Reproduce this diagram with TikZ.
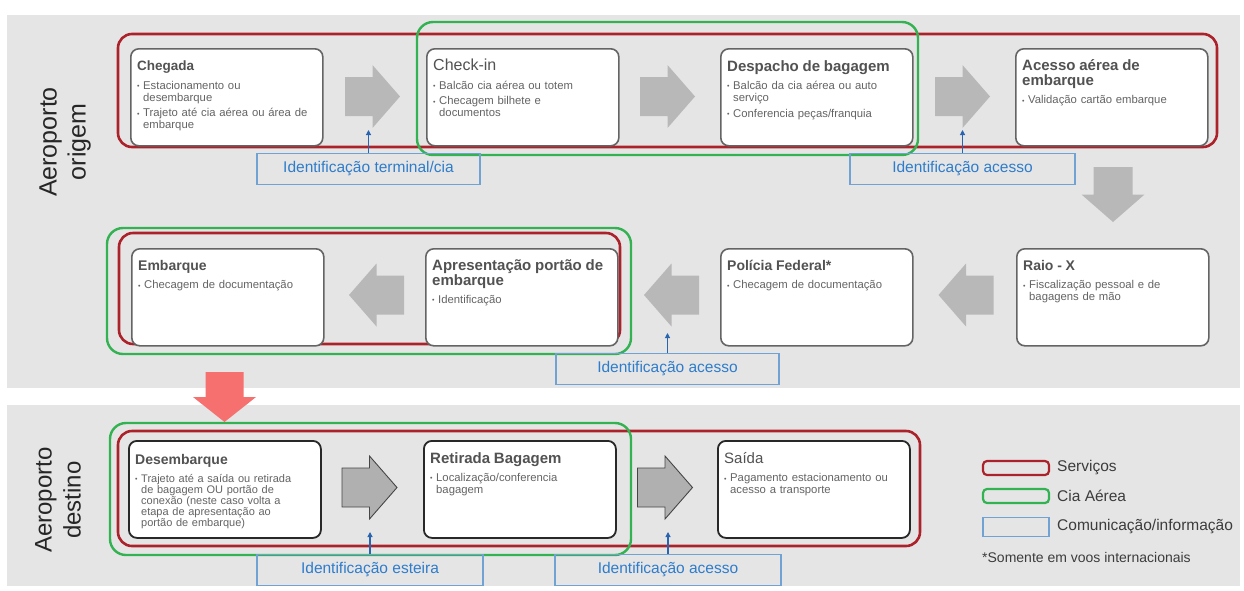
\documentclass[tikz,border=0pt]{standalone}
\usepackage{fontspec}
\setmainfont{Liberation Sans}
\usetikzlibrary{arrows.meta}

\definecolor{panel}{RGB}{229,229,229}
\definecolor{arrowgray}{RGB}{184,184,184}
\definecolor{arrowfill}{RGB}{176,176,176}
\definecolor{arrowedge}{RGB}{70,70,70}
\definecolor{svcred}{RGB}{172,34,42}
\definecolor{ciagreen}{RGB}{50,178,80}
\definecolor{infoblue}{RGB}{112,162,212}
\definecolor{infotext}{RGB}{46,124,204}
\definecolor{tipblue}{RGB}{40,100,176}
\definecolor{titlegray}{RGB}{82,82,82}
\definecolor{bodygray}{RGB}{100,100,100}
\definecolor{boxedge}{RGB}{100,100,100}
\definecolor{boxedgedark}{RGB}{40,40,40}
\definecolor{sidetext}{RGB}{38,38,38}
\definecolor{legtext}{RGB}{60,60,60}
\definecolor{salmon}{RGB}{246,112,112}

% step title: optional weight, size, text
\newcommand\hd[3][\bfseries]{\noindent{\fontsize{#2}{15}\selectfont#1\color{titlegray}#3\par}\vspace{3pt}}
% bullet item with hanging indent
\newcommand\bul[1]{\par\addvspace{3.5pt}\noindent\hangindent=6pt\hangafter=1\makebox[6pt][l]{\raisebox{0.6pt}{\fontsize{7}{7}\selectfont\textbullet}}#1\par}
% block arrow centred on the head base
\newcommand\blockarrow[3]{\path[#1,shift={#2},rotate=#3] (-27.5,-19.5) -- (0,-19.5) -- (0,-31.5) -- (27.5,0) -- (0,31.5) -- (0,19.5) -- (-27.5,19.5) -- cycle;}

\tikzset{
  panelbg/.style={fill=panel,draw=none},
  svcframe/.style={draw=svcred,line width=2.6pt,rounded corners=14pt},
  ciaframe/.style={draw=ciagreen,line width=2.4pt,rounded corners=16pt},
  stepbox/.style={draw=boxedge,line width=1.6pt,fill=white,rounded corners=8pt,
    minimum width=192pt,minimum height=97pt,anchor=north west,inner sep=0pt},
  stepboxdark/.style={stepbox,draw=boxedgedark,line width=1.8pt},
  steptext/.style={anchor=north west,inner sep=0pt,text width=181pt,
    font=\fontsize{11.3}{12}\selectfont,text=bodygray},
  flowarrow/.style={fill=arrowgray},
  flowarrowdark/.style={fill=arrowfill,draw=arrowedge,line width=0.9pt},
  infobox/.style={draw=infoblue,line width=1.2pt,minimum height=31pt,inner sep=0pt,
    text=infotext,font=\fontsize{15.5}{17}\selectfont},
  infoarrow/.style={draw=tipblue,line width=1.1pt,-{Triangle[length=5pt,width=5pt]}},
  sidelabel/.style={rotate=90,align=center,text=sidetext,font=\fontsize{25}{29}\selectfont},
  legbox/.style={line width=2.2pt,minimum width=66pt,minimum height=14pt,rounded corners=4pt,inner sep=0pt},
  legtxt/.style={anchor=west,inner sep=0pt,text=legtext,font=\fontsize{15.5}{17}\selectfont}
}

\begin{document}
\begin{tikzpicture}[x=1pt,y=-1pt]
\useasboundingbox (0,0) rectangle (1244,590);
\fill[white] (0,0) rectangle (1244,590);

% background panels
\path[panelbg] (7,15) rectangle (1240,388);
\path[panelbg] (7,405) rectangle (1240,586);

% side labels
\node[sidelabel] (lblorigem) at (65,142) {Aeroporto\\origem};
\node[sidelabel,font=\fontsize{24}{29}\selectfont] (lbldestino) at (58,500) {Aeroporto\\destino};

% service / airline frames
\draw[svcframe] (118,34) rectangle (1217,147);
\draw[ciaframe] (417,22) rectangle (918,155);
\draw[svcframe] (119,233) rectangle (620,344);
\draw[ciaframe] (107,228) rectangle (631,354);
\draw[svcframe] (118,431) rectangle (920,546);
\draw[ciaframe] (110,423) rectangle (631,555);

% ---- origin airport, first row ----
\node[stepbox] (chegada) at (130,48) {};
\node[steptext] (chegadaT) at ([xshift=7pt,yshift=-13pt]chegada.north west)
  {\hd{13.5}{Chegada}\bul{Estacionamento ou\newline desembarque}\bul{Trajeto até cia aérea ou área de\newline embarque}};
\node[stepbox] (checkin) at (426,48) {};
\node[steptext] (checkinT) at ([xshift=7pt,yshift=-11pt]checkin.north west)
  {\hd[\mdseries]{16}{Check-in}\bul{Balcão cia aérea ou totem}\bul{Checagem bilhete e\newline documentos}};
\node[stepbox] (despacho) at (720,48) {};
\node[steptext] (despachoT) at ([xshift=7pt,yshift=-12pt]despacho.north west)
  {\hd{15}{Despacho de bagagem}\bul{Balcão da cia aérea ou auto\newline serviço}\bul{Conferencia peças/franquia}};
\node[stepbox] (acesso) at (1015,48) {};
\node[steptext] (acessoT) at ([xshift=7pt,yshift=-11pt]acesso.north west)
  {\hd{15}{Acesso aérea de\newline embarque}\bul{Validação cartão embarque}};

\blockarrow{flowarrow}{(372.5,96.5)}{0}
\blockarrow{flowarrow}{(667.5,96.5)}{0}
\blockarrow{flowarrow}{(962.5,96.5)}{0}
\blockarrow{flowarrow}{(1113,194.5)}{-90}

\node[infobox,minimum width=223pt] (idterm) at (368.5,169) {Identificação terminal/cia};
\node[infobox,minimum width=225pt] (idacc1) at (962.5,169) {Identificação acesso};
\coordinate (tipterm) at (368.5,130);
\coordinate (tipacc1) at (962.5,130);
\draw[infoarrow] (idterm.north) -- (tipterm);
\draw[infoarrow] (idacc1.north) -- (tipacc1);

% ---- origin airport, second row ----
\node[stepbox] (embarque) at (131,248) {};
\node[steptext] (embarqueT) at ([xshift=7pt,yshift=-12pt]embarque.north west)
  {\hd{14}{Embarque}\bul{Checagem de documentação}};
\node[stepbox] (portao) at (425,248) {};
\node[steptext] (portaoT) at ([xshift=7pt,yshift=-11pt]portao.north west)
  {\hd{15}{Apresentação portão de\newline embarque}\bul{Identificação}};
\node[stepbox] (policia) at (720,248) {};
\node[steptext] (policiaT) at ([xshift=7pt,yshift=-12pt]policia.north west)
  {\hd{14}{Polícia Federal*}\bul{Checagem de documentação}};
\node[stepbox] (raiox) at (1016,248) {};
\node[steptext] (raioxT) at ([xshift=7pt,yshift=-12pt]raiox.north west)
  {\hd{14}{Raio - X}\bul{Fiscalização pessoal e de\newline bagagens de mão}};

\blockarrow{flowarrow}{(376.5,295)}{180}
\blockarrow{flowarrow}{(671.5,295)}{180}
\blockarrow{flowarrow}{(966,295)}{180}

\node[infobox,minimum width=223pt] (idacc2) at (667.5,369) {Identificação acesso};
\coordinate (tipacc2) at (667.5,333);
\draw[infoarrow] (idacc2.north) -- (tipacc2);

% transfer to destination
\fill[salmon] (205.5,372) -- (243.5,372) -- (243.5,397) -- (256,397) -- (224.5,422)
  -- (193,397) -- (205.5,397) -- cycle;

% ---- destination airport ----
\node[stepboxdark] (desemb) at (128,440) {};
\node[steptext,font=\fontsize{11}{11.2}\selectfont] (desembT) at ([xshift=7pt,yshift=-14pt]desemb.north west)
  {\hd{14}{Desembarque}\bul{Trajeto até a saída ou retirada\newline de bagagem OU portão de\newline conexão (neste caso volta a\newline etapa de apresentação ao\newline portão de embarque)}};
\node[stepboxdark] (retirada) at (423,440) {};
\node[steptext] (retiradaT) at ([xshift=7pt,yshift=-12pt]retirada.north west)
  {\hd{15}{Retirada Bagagem}\bul{Localização/conferencia\newline bagagem}};
\node[stepboxdark] (saida) at (717,440) {};
\node[steptext] (saidaT) at ([xshift=7pt,yshift=-12pt]saida.north west)
  {\hd[\mdseries]{15}{Saída}\bul{Pagamento estacionamento ou\newline acesso a transporte}};

\blockarrow{flowarrowdark}{(369.5,487.5)}{0}
\blockarrow{flowarrowdark}{(665,487.5)}{0}

\node[infobox,minimum width=226pt] (idest) at (370,570) {Identificação esteira};
\node[infobox,minimum width=226pt] (idacc3) at (668,570) {Identificação acesso};
\coordinate (tipest) at (370,532);
\coordinate (tipacc3) at (668,532);
\draw[infoarrow] (idest.north) -- (tipest);
\draw[infoarrow] (idacc3.north) -- (tipacc3);

% legend
\node[legbox,draw=svcred] (legsvc) at (1016,468) {};
\node[legbox,draw=ciagreen] (legcia) at (1016,496) {};
\node[legbox,draw=infoblue,line width=1.2pt,rounded corners=0pt,minimum height=19pt] (leginfo) at (1016,527) {};
\node[legtxt] (legsvcT) at (1057,468) {Serviços};
\node[legtxt] (legciaT) at (1057,496) {Cia Aérea};
\node[legtxt] (leginfoT) at (1057,527) {Comunicação/informação};
\node[legtxt,font=\fontsize{14}{15}\selectfont] (legnote) at (982,557) {*Somente em voos internacionais};
\end{tikzpicture}
\end{document}
